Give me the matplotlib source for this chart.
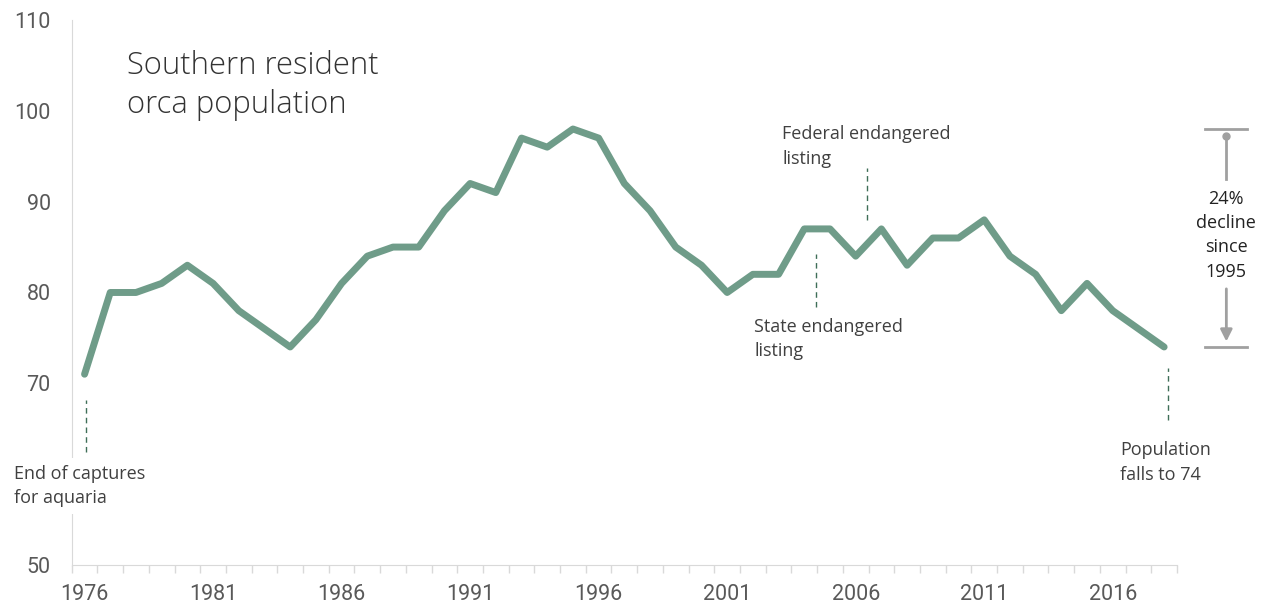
import matplotlib
matplotlib.use("Agg")
from matplotlib import pyplot as plt
from matplotlib.ticker import FixedLocator
import numpy as np

years = list(range(1976, 2019))
population = [71, 80, 80, 81, 83, 81, 78, 76, 74, 77,
              81, 84, 85, 85, 89, 92, 91, 97, 96, 98,
              97, 92, 89, 85, 83, 80, 82, 82, 87, 87,
              84, 87, 83, 86, 86, 88, 84, 82, 78, 81,
              78, 76, 74]
labelYears = [1976, 1981, 1986, 1991, 1996, 2001, 2006, 2011, 2016]
# 60 is hidden behind the "End of captures" note in the original
yTicks = [50, 70, 80, 90, 100, 110]

lineColor = "#6f9c89"
textColor = "#404040"
tickColor = "#595959"
gray = "#a0a0a0"
dashColor = "#3e6e57"

fig = plt.figure(figsize=(12.69, 6.06), dpi=100)
ax = fig.add_axes([0.0565, 0.0677, 0.871, 0.8993])

ax.plot(years, population, color=lineColor, lw=5, solid_capstyle="round",
        solid_joinstyle="round", zorder=3)

ax.set_xlim(1975.5, 2018.5)
ax.set_ylim(50, 110)
ax.set_yticks(yTicks)
ax.set_xticks(labelYears)
ax.xaxis.set_minor_locator(FixedLocator(np.arange(1975.5, 2019, 1)))
ax.tick_params(axis="x", which="major", length=0, pad=14, labelsize=15.5, labelcolor=tickColor)
ax.tick_params(axis="x", which="minor", length=6, width=1, color="#d9d9d9", direction="out")
ax.tick_params(axis="y", length=0, pad=15, labelsize=15.5, labelcolor=tickColor)
for lab in ax.get_xticklabels() + ax.get_yticklabels():
    lab.set_family("Roboto")

for s in ["top", "right"]:
    ax.spines[s].set_visible(False)
ax.spines["left"].set_color("#d9d9d9")
ax.spines["bottom"].set_color("#d9d9d9")

# title
ax.text(1977.65, 106.7, "Southern resident\norca population", fontsize=22.3,
        family="Open Sans", fontweight="light", color="#333333",
        va="top", ha="left", linespacing=1.28)

# annotations
noteFont = dict(fontsize=13, family="Open Sans", color=textColor, linespacing=1.45)

ax.plot([1976.06, 1976.06], [62.4, 68.2], ls=(0, (4, 3)), lw=1, color=dashColor)
ax.text(1973.25, 61.0, "End of captures\nfor aquaria", va="top", ha="left",
        bbox=dict(facecolor="white", edgecolor="none", pad=5), zorder=5,
        clip_on=False, **noteFont)

ax.plot([2004.45, 2004.45], [78.4, 84.25], ls=(0, (4, 3)), lw=1, color=dashColor)
ax.text(2002.05, 77.2, "State endangered\nlisting", va="top", ha="left", **noteFont)

ax.plot([2006.44, 2006.44], [88.0, 93.7], ls=(0, (4, 3)), lw=1, color=dashColor)
ax.text(2003.15, 98.4, "Federal endangered\nlisting", va="top", ha="left", **noteFont)

ax.plot([2018.16, 2018.16], [66.0, 71.7], ls=(0, (4, 3)), lw=1, color=dashColor)
ax.text(2016.3, 63.6, "Population\nfalls to 74", va="top", ha="left", **noteFont)

# decline bracket
bx = 2020.42
for yv in [98, 74]:
    ax.plot([bx - 0.82, bx + 0.82], [yv, yv], color=gray, lw=2, clip_on=False)
ax.plot([bx, bx], [97.2, 92.5], color=gray, lw=2, clip_on=False)
ax.plot([bx], [97.2], marker="o", ms=5, color=gray, clip_on=False)
ax.annotate("", xy=(bx, 74.6), xytext=(bx, 80.4), annotation_clip=False,
            arrowprops=dict(arrowstyle="-|>,head_length=0.7,head_width=0.35",
                            color=gray, lw=2, shrinkA=0, shrinkB=0))
ax.text(bx, 86.3, "24%\ndecline\nsince\n1995", ha="center", va="center",
        fontsize=13, family="Open Sans", color="#222222", linespacing=1.45,
        clip_on=False)

fig.savefig("out.png", dpi=100)
